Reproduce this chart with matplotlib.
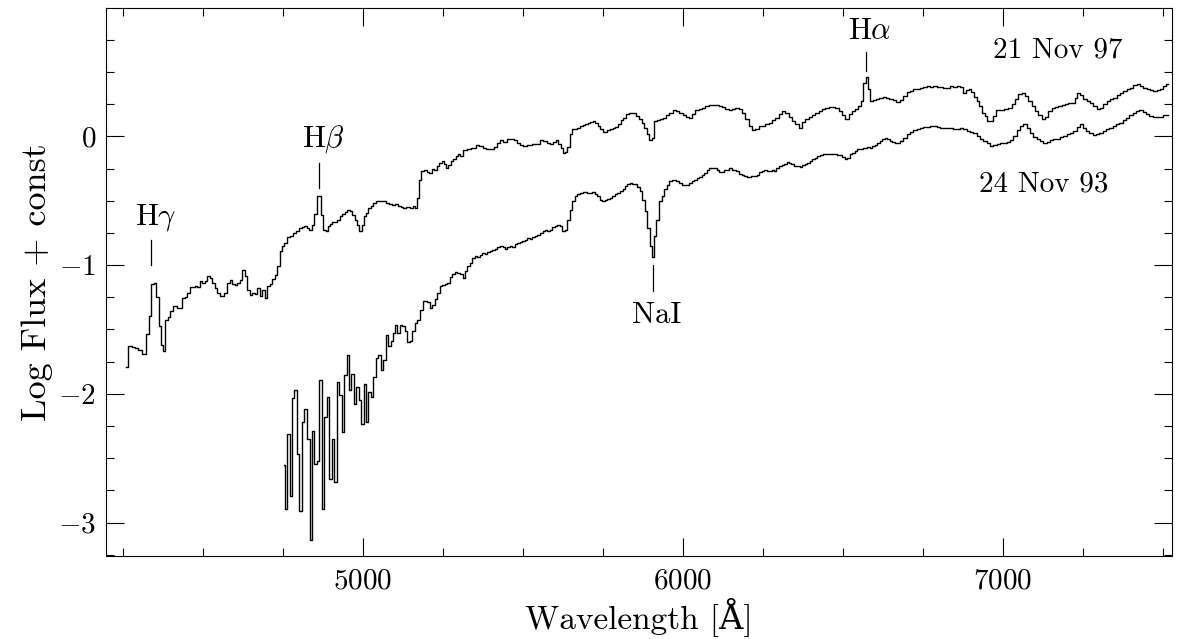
import matplotlib
matplotlib.use('Agg')
import matplotlib.pyplot as plt
from matplotlib.ticker import MultipleLocator, FuncFormatter

plt.rcParams['font.family'] = ['cmr10', 'DejaVu Serif']
plt.rcParams['mathtext.fontset'] = 'cm'

# 21 Nov 97 spectrum (upper)
wave_97 = [4261, 4272, 4282, 4293, 4303, 4315, 4326, 4334, 4343, 4351, 4358, 4366, 4372, 4378,
           4387, 4395, 4402, 4413, 4424, 4432, 4440, 4448, 4455, 4464, 4471, 4478, 4486, 4495,
           4502, 4509, 4518, 4525, 4533, 4541, 4549, 4560, 4572, 4580, 4588, 4596, 4603, 4611,
           4620, 4627, 4634, 4643, 4650, 4658, 4666, 4674, 4681, 4690, 4697, 4705, 4713, 4721,
           4728, 4736, 4744,
           4749, 4757, 4767, 4777, 4787, 4797, 4805, 4812, 4820, 4828, 4836, 4843, 4851, 4859,
           4867, 4873, 4880, 4887, 4894, 4901, 4908, 4916, 4924, 4932, 4940, 4947, 4955, 4963,
           4971, 4979, 4985, 4992, 4999, 5006, 5013, 5020, 5028, 5036, 5044, 5052, 5059, 5068,
           5076, 5084, 5095, 5105, 5114, 5122, 5130, 5141, 5151, 5159, 5165, 5170, 5178, 5187,
           5195, 5203, 5211, 5218, 5226, 5234, 5242, 5249, 5256, 5263, 5270, 5278, 5286, 5294,
           5302,
           5307, 5317, 5331, 5347, 5359, 5369, 5379, 5391, 5402, 5414, 5424, 5433, 5444, 5454,
           5466, 5476, 5485, 5496, 5506, 5519, 5535, 5548, 5558, 5570, 5580, 5590, 5599, 5607,
           5614, 5621, 5627, 5634, 5643, 5651, 5658, 5666, 5674, 5682, 5690, 5698, 5706, 5714,
           5721, 5729, 5737, 5745, 5753, 5760, 5768, 5776, 5784, 5793, 5802, 5809, 5817, 5825,
           5837, 5850, 5859, 5867, 5874, 5882, 5890, 5898, 5906, 5914, 5924,
           5933, 5943, 5952, 5962, 5973, 5983, 5994, 6004, 6015, 6024, 6033, 6044, 6054, 6065,
           6075, 6085, 6096, 6106, 6117, 6127, 6138, 6148, 6158, 6169, 6179, 6190, 6200, 6210,
           6221, 6231, 6242, 6252, 6262, 6273, 6283, 6294, 6304, 6315, 6325, 6335, 6346, 6356,
           6367, 6377, 6388, 6398, 6408, 6419, 6429, 6440, 6450, 6460, 6471, 6481, 6492, 6502,
           6513, 6523, 6533, 6544, 6552, 6559, 6567, 6575, 6582, 6589, 6598, 6608, 6619, 6629,
           6640, 6650, 6660, 6671,
           6683, 6694, 6704, 6715, 6725, 6735, 6746, 6756, 6767, 6777, 6788, 6798, 6808, 6819,
           6829, 6840, 6850, 6860, 6871, 6880, 6889, 6897, 6905, 6914, 6922, 6930, 6939, 6947,
           6955, 6964, 6971, 6982, 6998, 7011, 7022, 7032, 7043, 7053, 7064, 7074, 7084, 7095,
           7105, 7116, 7126, 7136, 7147, 7157, 7168, 7178, 7189, 7199, 7209, 7220, 7229, 7236,
           7246, 7256, 7267, 7277, 7287, 7298, 7308, 7319, 7329, 7340, 7350, 7360, 7371, 7381,
           7392, 7402, 7413, 7423, 7433, 7444, 7454, 7465, 7475, 7485, 7496, 7506, 7515]
flux_97 = [-1.795, -1.626, -1.639, -1.645, -1.660, -1.691, -1.533, -1.398, -1.147, -1.140, -1.248,
           -1.476, -1.619, -1.665, -1.424, -1.400, -1.354, -1.315, -1.333, -1.330, -1.255, -1.250,
           -1.217, -1.173, -1.170, -1.165, -1.170, -1.126, -1.140, -1.120, -1.087, -1.100, -1.140,
           -1.178, -1.217, -1.237, -1.217, -1.140, -1.113, -1.147, -1.152, -1.140, -1.113, -1.035,
           -1.087, -1.191, -1.230, -1.217, -1.225, -1.180, -1.240, -1.190, -1.253, -1.165, -1.147,
           -1.105, -1.074, -1.010, -0.887,
           -0.853, -0.827, -0.781, -0.770, -0.749, -0.731, -0.711, -0.705, -0.698, -0.711, -0.724,
           -0.685, -0.599, -0.464, -0.459, -0.607, -0.729, -0.731, -0.698, -0.677, -0.667, -0.664,
           -0.646, -0.620, -0.602, -0.589, -0.573, -0.580, -0.607, -0.650, -0.685, -0.731, -0.685,
           -0.620, -0.594, -0.555, -0.537, -0.516, -0.503, -0.498, -0.503, -0.498, -0.516, -0.524,
           -0.529, -0.524, -0.537, -0.547, -0.555, -0.547, -0.555, -0.540, -0.555, -0.477, -0.340,
           -0.270, -0.262, -0.278, -0.283, -0.252, -0.257, -0.231, -0.205, -0.192, -0.213, -0.244,
           -0.223, -0.192, -0.179, -0.153, -0.140,
           -0.150, -0.106, -0.096, -0.088, -0.067, -0.075, -0.088, -0.096, -0.100, -0.080, -0.049,
           -0.031, -0.041, -0.023, -0.018, -0.031, -0.054, -0.067, -0.075, -0.070, -0.062, -0.057,
           -0.028, -0.036, -0.049, -0.062, -0.041, -0.028, -0.062, -0.088, -0.132, -0.122, -0.080,
           0.016, 0.055, 0.060, 0.067, 0.080, 0.088, 0.098, 0.106, 0.114, 0.119, 0.106, 0.080,
           0.055, 0.036, 0.034, 0.049, 0.060, 0.067, 0.073, 0.093, 0.127, 0.145, 0.171, 0.184,
           0.179, 0.158, 0.132, 0.106, 0.067, 0.016, -0.031, -0.010, 0.119, 0.127,
           0.132, 0.145, 0.164, 0.184, 0.204, 0.197, 0.179, 0.164, 0.153, 0.145, 0.171, 0.204,
           0.210, 0.223, 0.236, 0.244, 0.244, 0.241, 0.236, 0.228, 0.215, 0.204, 0.210, 0.223,
           0.210, 0.184, 0.132, 0.085, 0.049, 0.060, 0.080, 0.085, 0.093, 0.106, 0.124, 0.145,
           0.171, 0.197, 0.184, 0.153, 0.119, 0.093, 0.067, 0.111, 0.137, 0.153, 0.164, 0.184,
           0.197, 0.215, 0.223, 0.228, 0.228, 0.223, 0.197, 0.163, 0.138, 0.171, 0.197, 0.215,
           0.236, 0.275, 0.418, 0.464, 0.366, 0.275, 0.283, 0.293, 0.301, 0.309, 0.301, 0.288,
           0.280, 0.270,
           0.280, 0.314, 0.345, 0.355, 0.366, 0.371, 0.379, 0.387, 0.392, 0.387, 0.392, 0.384,
           0.387, 0.379, 0.379, 0.392, 0.387, 0.392, 0.387, 0.340, 0.361, 0.371, 0.345, 0.309,
           0.275, 0.236, 0.184, 0.158, 0.119, 0.119, 0.158, 0.205, 0.205, 0.210, 0.223, 0.249,
           0.293, 0.327, 0.340, 0.314, 0.275, 0.236, 0.197, 0.163, 0.132, 0.153, 0.197, 0.223,
           0.228, 0.236, 0.241, 0.249, 0.257, 0.262, 0.301, 0.335, 0.319, 0.293, 0.275, 0.257,
           0.236, 0.215, 0.223, 0.254, 0.275, 0.288, 0.301, 0.319, 0.335, 0.353, 0.366, 0.379,
           0.400, 0.405, 0.392, 0.379, 0.366, 0.358, 0.353, 0.361, 0.371, 0.392, 0.410]

# 24 Nov 93 spectrum (lower)
wave_93 = [4754, 4760, 4767, 4774, 4782, 4789, 4797, 4805, 4813, 4821, 4829, 4837, 4844, 4852,
           4860, 4867, 4875, 4883, 4891, 4898, 4906, 4914, 4921, 4929, 4937, 4945, 4953, 4960,
           4967, 4975, 4983, 4990, 4998, 5006, 5013, 5021, 5029, 5036, 5044, 5052, 5059, 5067,
           5075, 5082, 5091,
           5096, 5104, 5111, 5119, 5127, 5135, 5143, 5151, 5158, 5166, 5174, 5182, 5190, 5197,
           5205, 5213, 5221, 5229, 5236, 5244, 5252, 5260, 5268, 5276, 5283, 5291, 5299, 5307,
           5315, 5322, 5330, 5338, 5346, 5354, 5361, 5369, 5377, 5385, 5393, 5401, 5408, 5416,
           5424, 5432, 5440, 5447, 5455, 5463, 5471, 5479, 5486, 5494, 5502, 5510, 5518, 5526,
           5533, 5541, 5549, 5557, 5565, 5572, 5580, 5588, 5596, 5604, 5611, 5619, 5627, 5635,
           5643, 5651, 5658, 5666, 5674, 5682, 5693, 5705, 5713, 5721, 5729, 5736, 5744, 5752,
           5760, 5768, 5776, 5783, 5791, 5799, 5807, 5815, 5822, 5830, 5838, 5846, 5854, 5861,
           5869, 5877, 5885, 5893, 5900, 5906, 5913, 5919,
           5930, 5937, 5945, 5953, 5961, 5972, 5984, 5992, 6000, 6008, 6016, 6023, 6031, 6039,
           6047, 6055, 6062, 6070, 6078, 6085, 6093, 6101, 6109, 6117, 6124, 6132, 6140, 6148,
           6156, 6163, 6171, 6179, 6187, 6195, 6207, 6218, 6226, 6234, 6242, 6249, 6257, 6265,
           6273, 6281, 6288, 6296, 6304, 6312, 6320, 6328, 6335, 6343, 6351, 6360, 6369, 6377,
           6385, 6393, 6401, 6408, 6416, 6424, 6432, 6440, 6467, 6494, 6502, 6510, 6518, 6525,
           6533, 6541, 6549, 6557, 6565, 6572, 6580, 6588, 6596, 6604, 6611, 6619, 6627, 6635,
           6643, 6651, 6658, 6666, 6674,
           6683, 6694, 6704, 6715, 6725, 6735, 6746, 6756, 6767, 6777, 6788, 6798, 6808, 6819,
           6829, 6840, 6850, 6860, 6871, 6881, 6892, 6902, 6912, 6923, 6933, 6944, 6954, 6965,
           6975, 6985, 6996, 7006, 7017, 7027, 7038, 7048, 7058, 7069, 7079, 7090, 7100, 7110,
           7121, 7131, 7142, 7152, 7162, 7173, 7183, 7194, 7204, 7215, 7225, 7235, 7245, 7254,
           7265, 7275, 7285, 7296, 7306, 7317, 7327, 7337, 7348, 7358, 7369, 7379, 7390, 7400,
           7410, 7421, 7431, 7442, 7452, 7462, 7473, 7483, 7494, 7504, 7514]
flux_93 = [-2.553, -2.895, -2.314, -2.791, -2.033, -1.969, -2.467, -2.908, -2.220, -2.114, -2.353,
           -3.136, -2.288, -2.545, -2.521, -1.896, -2.895, -2.182, -2.021, -2.661, -2.353, -2.682,
           -1.909, -2.008, -2.298, -1.852, -1.702, -1.969, -1.844, -2.078, -1.943, -2.047, -2.233,
           -1.925, -2.220, -1.982, -2.021, -1.870, -1.722, -1.696, -1.813, -1.735, -1.541, -1.632,
           -1.593,
           -1.528, -1.468, -1.530, -1.463, -1.476, -1.515, -1.601, -1.593, -1.515, -1.450, -1.424,
           -1.346, -1.282, -1.282, -1.290, -1.333, -1.307, -1.261, -1.216, -1.165, -1.152, -1.147,
           -1.139, -1.095, -1.069, -1.056, -1.061, -1.069, -1.100, -1.048, -1.009, -0.983, -0.944,
           -0.931, -0.939, -0.918, -0.905, -0.910, -0.900, -0.892, -0.885, -0.874, -0.861, -0.853,
           -0.861, -0.874, -0.861, -0.848, -0.858, -0.835, -0.827, -0.820, -0.809, -0.801, -0.789,
           -0.796, -0.783, -0.770, -0.763, -0.750, -0.737, -0.724, -0.731, -0.724, -0.703, -0.693,
           -0.685, -0.698, -0.737, -0.724, -0.646, -0.568, -0.503, -0.459, -0.451, -0.438, -0.433,
           -0.438, -0.438, -0.433, -0.446, -0.464, -0.490, -0.503, -0.490, -0.485, -0.477, -0.464,
           -0.451, -0.438, -0.425, -0.407, -0.386, -0.368, -0.360, -0.366, -0.373, -0.391, -0.425,
           -0.490, -0.581, -0.711, -0.853, -0.939, -0.770, -0.646,
           -0.503, -0.464, -0.412, -0.381, -0.348, -0.340, -0.348, -0.360, -0.374, -0.381, -0.374,
           -0.361, -0.343, -0.335, -0.322, -0.314, -0.296, -0.283, -0.262, -0.244, -0.244, -0.249,
           -0.257, -0.275, -0.278, -0.262, -0.257, -0.249, -0.257, -0.262, -0.270, -0.288, -0.296,
           -0.309, -0.314, -0.309, -0.309, -0.296, -0.278, -0.265, -0.262, -0.270, -0.270, -0.262,
           -0.265, -0.244, -0.231, -0.223, -0.213, -0.200, -0.205, -0.218, -0.226, -0.231, -0.239,
           -0.223, -0.213, -0.205, -0.192, -0.179, -0.166, -0.153, -0.145, -0.140, -0.140, -0.148,
           -0.158, -0.179, -0.166, -0.140, -0.127, -0.114, -0.101, -0.096, -0.093, -0.088, -0.080,
           -0.088, -0.075, -0.067, -0.049, -0.036, -0.018, -0.010, -0.023, -0.036, -0.041, -0.049,
           -0.054,
           -0.036, -0.010, 0.016, 0.034, 0.049, 0.054, 0.062, 0.072, 0.075, 0.080, 0.080, 0.072,
           0.067, 0.067, 0.062, 0.062, 0.060, 0.060, 0.062, 0.054, 0.041, 0.034, 0.023, 0.003,
           -0.016, -0.036, -0.054, -0.075, -0.070, -0.062, -0.054, -0.049, -0.044, -0.028, 0.003,
           0.049, 0.085, 0.093, 0.067, 0.029, -0.003, -0.023, -0.036, -0.054, -0.044, -0.028,
           -0.018, -0.016, -0.003, 0.003, 0.016, 0.028, 0.041, 0.075, 0.093, 0.067, 0.041, 0.023,
           0.008, 0.016, 0.028, 0.041, 0.059, 0.067, 0.080, 0.093, 0.106, 0.124, 0.140, 0.163,
           0.184, 0.197, 0.205, 0.189, 0.171, 0.158, 0.153, 0.150, 0.153, 0.163, 0.163]

# line identifications
line_names = [r'H$\gamma$', r'H$\beta$', r'H$\alpha$', 'NaI']
line_wave = [4337, 4863, 6571, 5907]
line_y0 = [-1.0, -0.397, 0.506, -1.0]
line_y1 = [-0.807, -0.203, 0.654, -1.204]
label_x = [4353, 4878, 6584, 5919]
label_y = [-0.63, -0.02, 0.817, -1.393]

dates = ['21 Nov 97', '24 Nov 93']
date_x = [7172, 7128]
date_y = [0.67, -0.37]

fig = plt.figure(figsize=(11.88, 6.39), dpi=100)
ax = fig.add_axes([106/1188, 1 - 556/639, 1066/1188, 548/639])

ax.step(wave_97, flux_97, where='mid', color='k', lw=1.0)
ax.step(wave_93, flux_93, where='mid', color='k', lw=1.0)

for i in range(len(line_names)):
    ax.plot([line_wave[i], line_wave[i]], [line_y0[i], line_y1[i]], color='k', lw=0.9)
    ax.text(label_x[i], label_y[i], line_names[i], fontsize=22, ha='center', va='center')

for i in range(len(dates)):
    ax.text(date_x[i], date_y[i], dates[i], fontsize=21, ha='center', va='center')

ax.set_xlim(4197, 7528)
ax.set_ylim(-3.26, 0.998)
ax.xaxis.set_major_locator(MultipleLocator(1000))
ax.xaxis.set_minor_locator(MultipleLocator(250))
ax.yaxis.set_major_locator(MultipleLocator(1))
ax.yaxis.set_minor_locator(MultipleLocator(0.25))
# roman cm digits with a long cm minus
fmt = FuncFormatter(lambda v, p: r'$\mathrm{%d}$' % round(v))
ax.xaxis.set_major_formatter(fmt)
ax.yaxis.set_major_formatter(fmt)
ax.tick_params(which='both', direction='in', top=True, right=True, width=0.8)
ax.tick_params(which='major', length=13, labelsize=21)
ax.tick_params(which='minor', length=6)
ax.tick_params(axis='x', pad=9)
ax.tick_params(axis='y', pad=7)
for sp in ax.spines.values():
    sp.set_linewidth(0.8)

ax.set_xlabel('Wavelength [Å]', fontsize=24)
ax.xaxis.set_label_coords(0.5, -0.074)
ax.set_ylabel('Log Flux + const', fontsize=26, labelpad=4)

fig.savefig('out.png', dpi=100)
